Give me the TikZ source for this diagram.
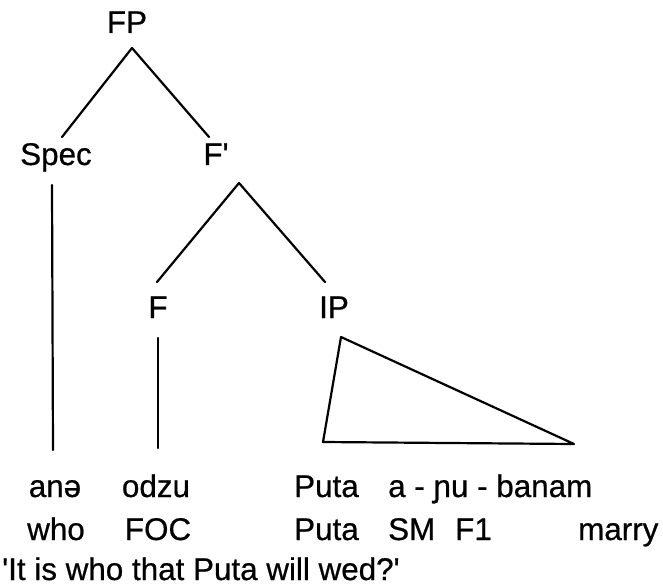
\documentclass[tikz,border=0pt]{standalone}
\usepackage{fontspec}
\setmainfont{Liberation Sans}[FakeBold=0.6]
\begin{document}
\begin{tikzpicture}[x=1bp,y=-1bp,
  lbl/.style={inner sep=0pt,anchor=base,font=\fontsize{31.5}{35}\selectfont},
  lblw/.style={lbl,anchor=base west},
  branch/.style={line width=2.2bp,line cap=round,line join=round}]
\useasboundingbox (0,0) rectangle (663,587);
% category labels
\node[lbl] (FP) at (127,33) {FP};
\node[lbl] (Spec) at (56,165) {Spec};
\node[lbl] (Fbar) at (216,165) {F\textquotesingle};
\node[lbl] (F) at (158,318) {F};
\node[lbl] (IP) at (334,318) {IP};
% words
\node[lbl] (ane) at (55,497) {anə};
\node[lbl] (odzu) at (156,497) {odzu};
\node[lblw] (puta1) at (294,497) {Puta};
\node[lblw] (verb) at (388,497) {a - ɲu - banam};
\node[lbl] (who) at (56,540) {who};
\node[lbl] (foc) at (158,540) {FOC};
\node[lblw] (puta2) at (294,540) {Puta};
\node[lblw] (sm) at (388,540) {SM};
\node[lblw] (fone) at (455,540) {F1};
\node[lblw] (marry) at (578,540) {marry};
\node[lblw] (trans) at (2,580) {\textquotesingle It is who that Puta will wed?\textquotesingle};
% branch end points
\coordinate (fpTop) at (132,48);
\coordinate (specTop) at (62,137);
\coordinate (fbarTop) at (209,137);
\coordinate (specDown) at (52,185);
\coordinate (aneUp) at (53,450);
\coordinate (fbarDown) at (239,183);
\coordinate (fTop) at (157,282);
\coordinate (ipTop) at (325,282);
\coordinate (fDown) at (158,338);
\coordinate (odzuUp) at (158,448);
\coordinate (triA) at (341,337);
\coordinate (triL) at (323,442);
\coordinate (triR) at (574,444);
% branches
\draw[branch] (specTop) -- (fpTop) -- (fbarTop);
\draw[branch] (specDown) -- (aneUp);
\draw[branch] (fTop) -- (fbarDown) -- (ipTop);
\draw[branch] (fDown) -- (odzuUp);
\draw[branch] (triA) -- (triL) -- (triR) -- cycle;
\end{tikzpicture}
\end{document}
